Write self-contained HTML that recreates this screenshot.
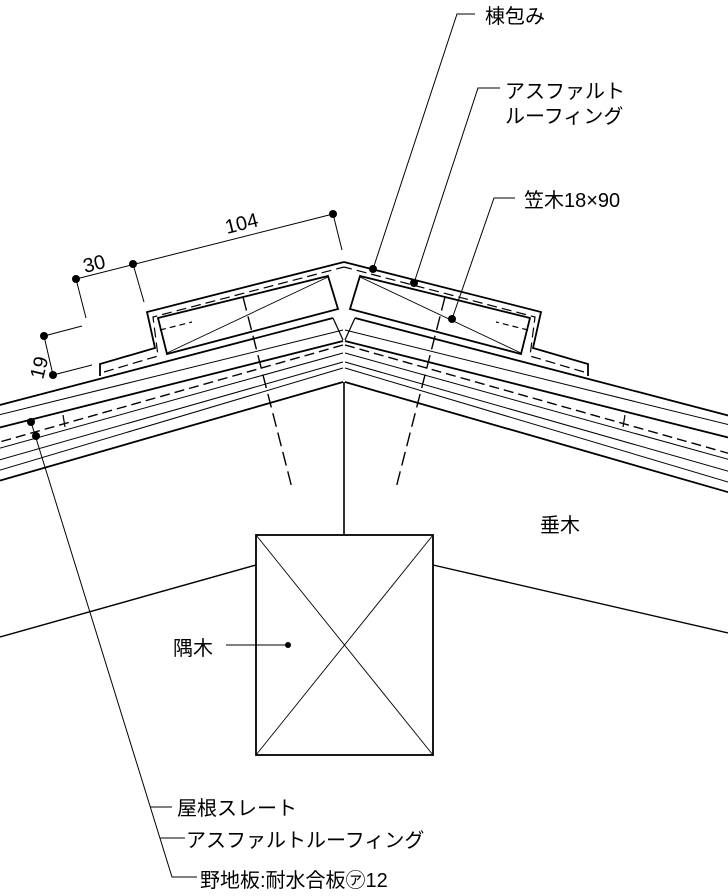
<!DOCTYPE html>
<html><head><meta charset="utf-8"><style>
html,body{margin:0;padding:0;background:#fff;}
svg{display:block;}
text{font-family:"Liberation Sans","Noto Sans CJK JP",sans-serif;fill:#000;}
</style></head><body>
<svg width="728" height="896" viewBox="0 0 728 896" xmlns="http://www.w3.org/2000/svg">
<defs>
<g id="half" fill="none" stroke="#000">
  <path d="M333,318 L-50,418" stroke-width="1.8"/>
  <path d="M343,330 L-50,427" stroke-width="1"/>
  <path d="M343,341 L-50,440" stroke-width="1.8"/>
  <path d="M343,345 L-50,456" stroke-width="1.4" stroke-dasharray="10,5"/>
  <path d="M343,353 L-50,462" stroke-width="1"/>
  <path d="M343,362 L-50,474" stroke-width="1"/>
  <path d="M343,368 L-50,485" stroke-width="1"/>
  <path d="M343,382 L-50,495" stroke-width="1.8"/>
  <path d="M333,318 L343,340" stroke-width="1.2"/>
  <path d="M63,415 L65,427" stroke-width="1.2"/>
  <path d="M100,376 L100,364 L155,348 L147,312 L344,262" stroke-width="1.8"/>
  <path d="M104,372 L158,356 L153,317 L344,267" stroke-width="1.2" stroke-dasharray="10,5"/>
  <polygon points="158,318 328,276 338,309 167,354" stroke-width="1.8"/>
  <path d="M167,353 L328,277" stroke-width="0.9"/>
  <path d="M160,330 L192,322" stroke-width="1.2" stroke-dasharray="6,4"/>
  <path d="M243,297 L292,488" stroke-width="1.4" stroke-dasharray="14,6"/>
</g>
</defs>
<use href="#half"/>
<use href="#half" transform="translate(688,0) scale(-1,1)"/>
<g fill="none" stroke="#000">
  <path d="M344,382 V535" stroke-width="1.6"/>
  <rect x="256" y="535" width="177" height="220" stroke-width="1.8"/>
  <path d="M256,535 L433,755 M433,535 L256,755" stroke-width="0.9"/>
  <path d="M0,637 L256,565 M433,565 L728,633" stroke-width="1.4"/>
  <path d="M373,269 L457,14 H475" stroke-width="1"/>
  <path d="M414,283 L478,88 H500" stroke-width="1"/>
  <path d="M452,319 L494,198 H515" stroke-width="1"/>
  <path d="M288,645 H226" stroke-width="1"/>
  <path d="M31,422 L172,877 H197 M150,807 H172 M160,838 H185" stroke-width="1"/>
  <path d="M44,336 L53,375 M44,336 L82,326 M53,375 L92,365" stroke-width="1"/>
  <path d="M76,279 L333,214 M76,279 L86,318 M133,264 L144,302 M333,214 L342,250" stroke-width="1"/>
</g>
<g fill="#000">
  <circle cx="373" cy="269" r="4"/><circle cx="414" cy="283" r="4"/><circle cx="452" cy="319" r="4"/>
  <circle cx="288" cy="645" r="3"/><circle cx="31" cy="422" r="4"/><circle cx="36" cy="436" r="4"/>
  <circle cx="44" cy="336" r="4"/><circle cx="53" cy="375" r="4"/><circle cx="76" cy="279" r="4"/>
  <circle cx="133" cy="264" r="4"/><circle cx="333" cy="214" r="4"/>
</g>
<g font-size="20">
  <text x="485" y="23">棟包み</text>
  <text x="505" y="98">アスファルト</text>
  <text x="505" y="123">ルーフィング</text>
  <text x="524" y="207">笠木18×90</text>
  <text x="540" y="532">垂木</text>
  <text x="173" y="655">隅木</text>
  <text x="177" y="815">屋根スレート</text>
  <text x="186" y="847">アスファルトルーフィング</text>
  <text x="200" y="887">野地板:耐水合板㋐12</text>
  <text x="227" y="234" transform="rotate(-14 227 234)">104</text>
  <text x="85" y="273" transform="rotate(-14 85 273)">30</text>
  <text x="43" y="380" transform="rotate(-76 43 380)">19</text>
</g>
</svg>
</body></html>
